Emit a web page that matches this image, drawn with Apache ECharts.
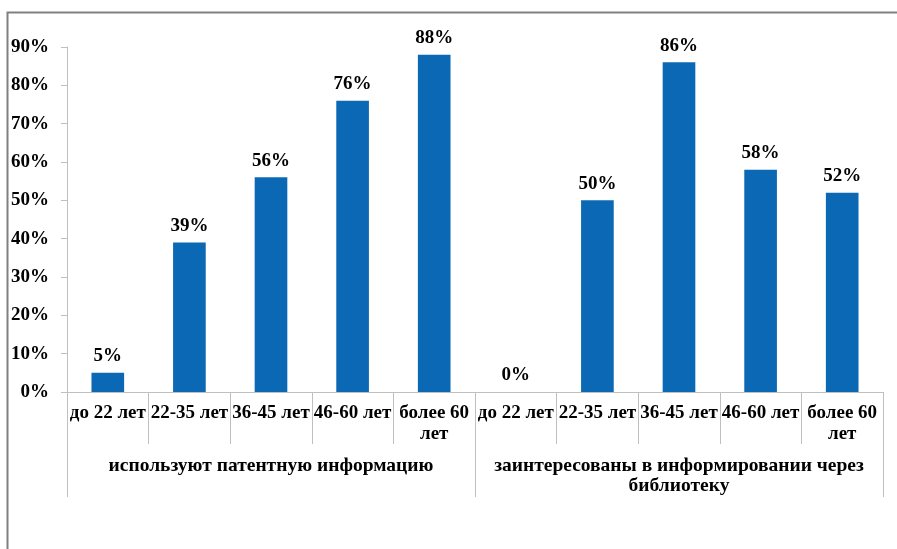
<!DOCTYPE html>
<html>
<head>
<meta charset="utf-8">
<script src="https://cdn.jsdelivr.net/npm/echarts@6/dist/echarts.min.js"></script>
<style>html,body{margin:0;padding:0;background:#fff;}#c{width:897px;height:549px;}</style>
</head>
<body>
<div id="c"></div>
<script>
const categories = ["до 22 лет","22-35 лет","36-45 лет","46-60 лет","более 60\nлет",
                    "до 22 лет","22-35 лет","36-45 лет","46-60 лет","более 60\nлет"];
const groups = ["используют патентную информацию", "заинтересованы в информировании через\nбиблиотеку"];
const values = [5, 39, 56, 76, 88, 0, 50, 86, 58, 52];
const yTicks = [0, 10, 20, 30, 40, 50, 60, 70, 80, 90];

const font = {fontFamily: "'Liberation Serif', 'Times New Roman', serif", fontWeight: 'bold', fontSize: 19, color: '#000'};
const gray = '#bfbfbf';
const chart = echarts.init(document.getElementById('c'));
chart.setOption({
  animation: false,
  graphic: [{type: 'rect', left: 5, top: 10, shape: {width: 1000, height: 1000}, style: {fill: 'none', stroke: '#808080', lineWidth: 2}, silent: true}],
  grid: {left: 67, right: 14, top: 47, bottom: 157},
  xAxis: [
    {type: 'category', data: categories, position: 'bottom', boundaryGap: true,
     axisLine: {show: true, lineStyle: {color: gray}},
     axisTick: {show: true, interval: 0, length: 52, lineStyle: {color: gray}},
     axisLabel: Object.assign({interval: 0, margin: 11, lineHeight: 21}, font)},
    {type: 'category', data: groups, position: 'bottom', boundaryGap: true,
     axisLine: {show: false},
     axisTick: {show: true, interval: 0, length: 105, lineStyle: {color: gray}},
     axisLabel: Object.assign({interval: 0, margin: 64, lineHeight: 20, align: 'center'}, font, {fontSize: 19.5})}
  ],
  yAxis: {type: 'value', min: 0, max: 90, interval: 10,
    axisLine: {show: true, lineStyle: {color: gray}},
    axisTick: {show: true, length: 6, lineStyle: {color: gray}},
    splitLine: {show: false},
    axisLabel: Object.assign({margin: 18, formatter: v => yTicks.includes(v) ? v + '%' : ''}, font)},
  series: [{type: 'bar', xAxisIndex: 0, data: values, barWidth: '40%',
    itemStyle: {color: '#0b68b4'},
    label: Object.assign({show: true, position: 'top', distance: 7, formatter: '{c}%'}, font)}]
});
</script>
</body>
</html>
